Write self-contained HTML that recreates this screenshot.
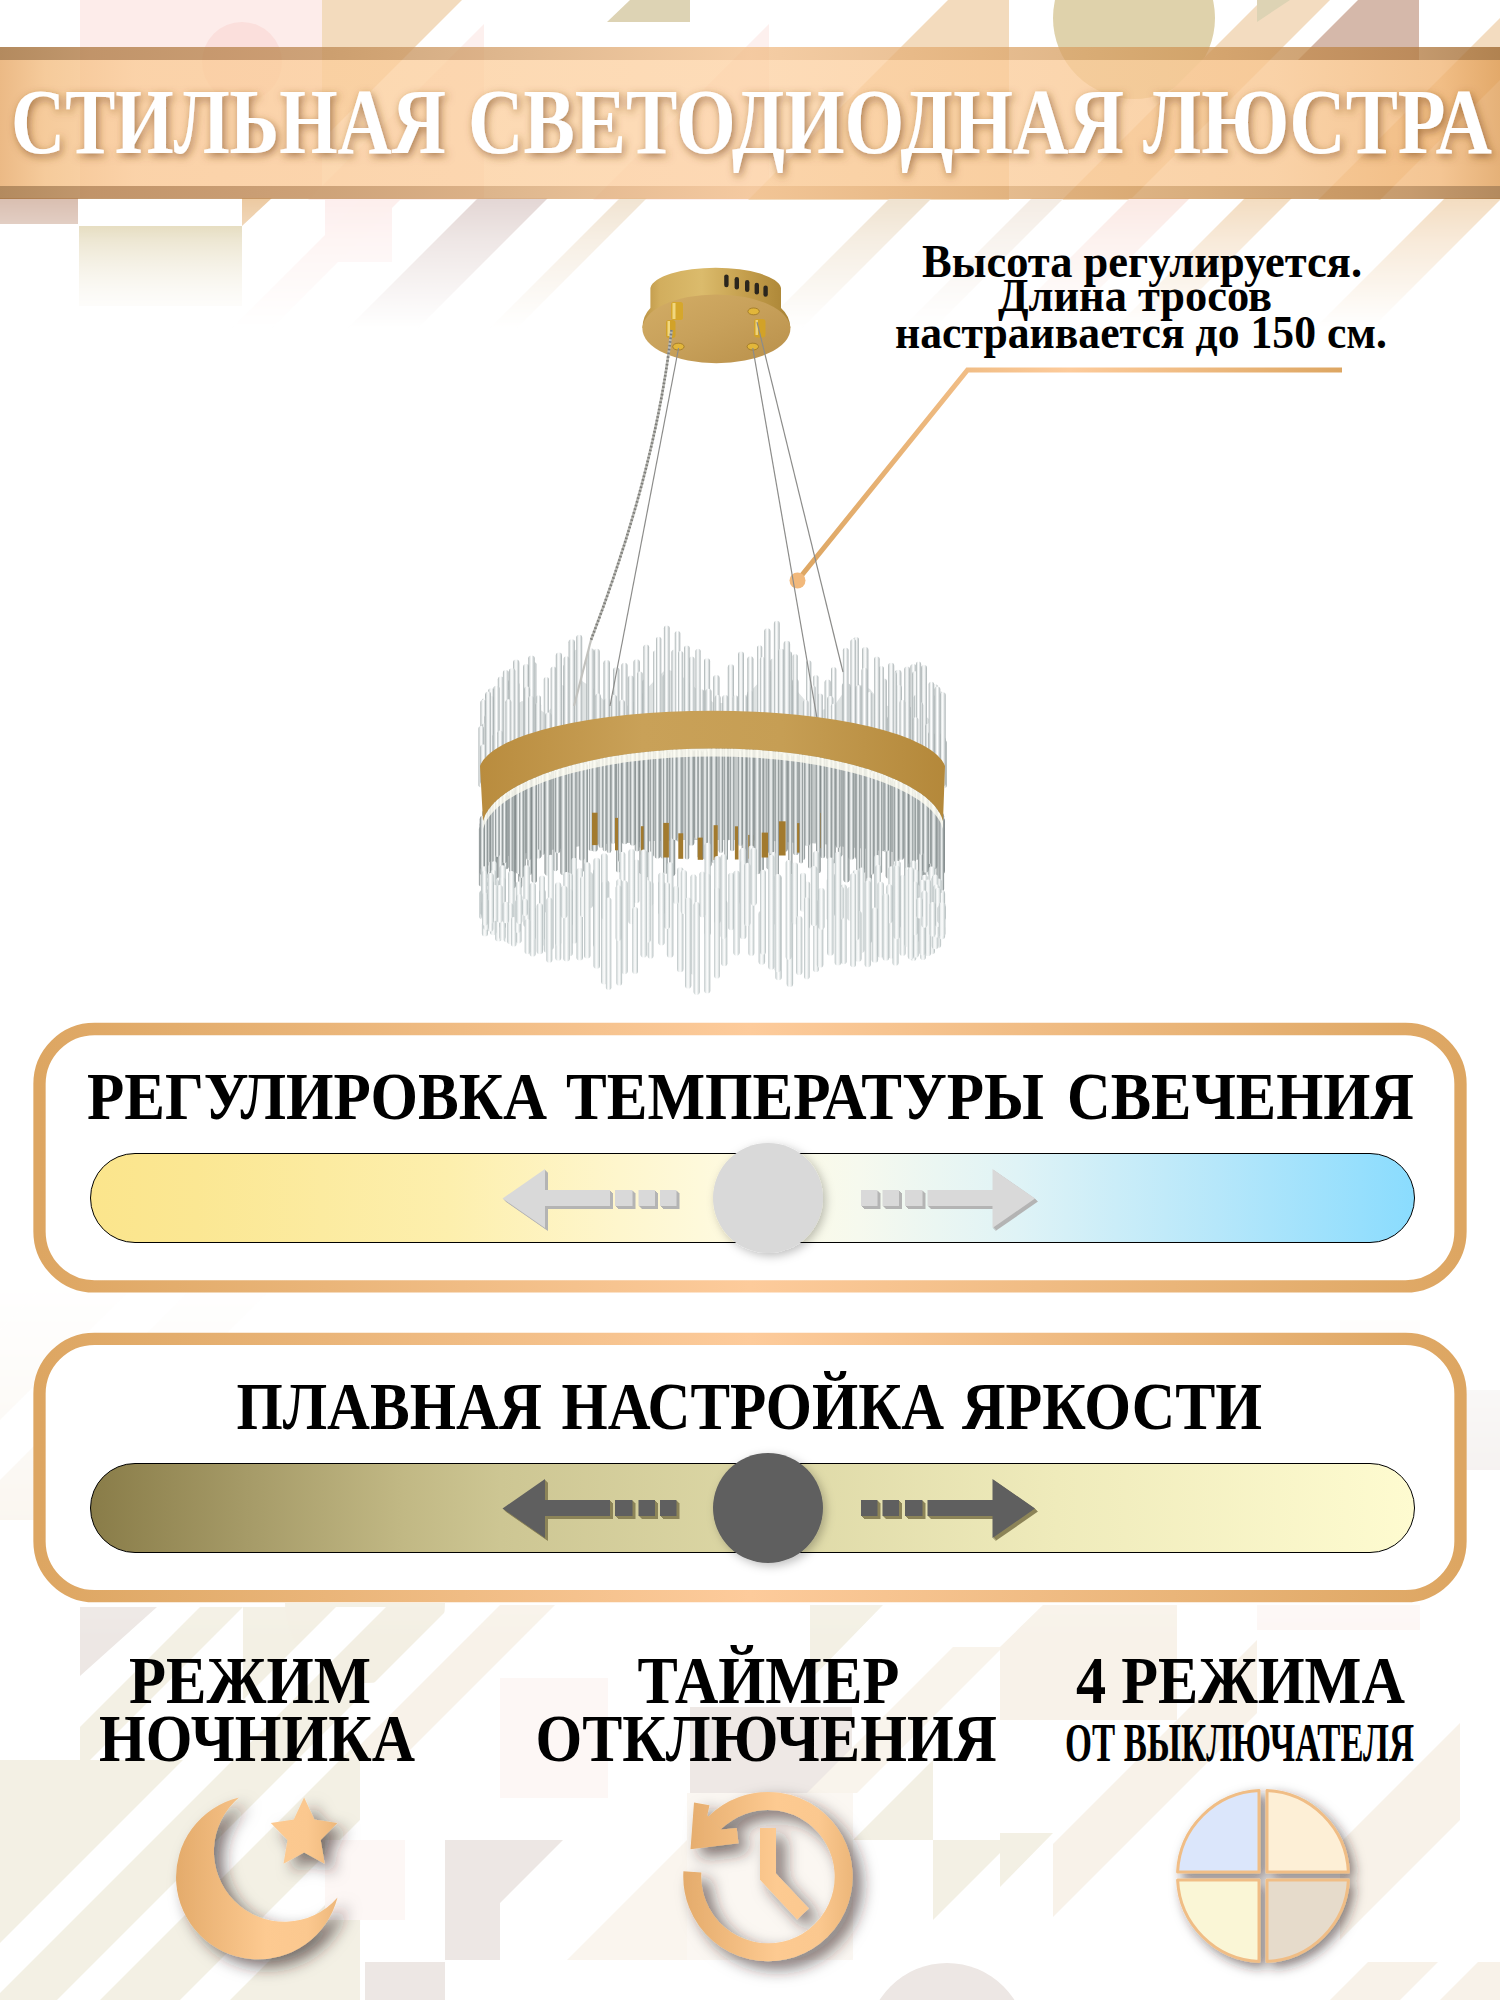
<!DOCTYPE html>
<html lang="ru">
<head>
<meta charset="utf-8">
<title>Стильная светодиодная люстра</title>
<style>
html,body{margin:0;padding:0;background:#fff;}
body{width:1500px;height:2000px;overflow:hidden;position:relative;}
svg{position:absolute;left:0;top:0;display:block;}
text{font-family:"Liberation Serif","DejaVu Serif",serif;font-weight:bold;}
</style>
</head>
<body>
<svg width="1500" height="2000" viewBox="0 0 1500 2000">
<defs>
<linearGradient id="gBannerEdge" x1="0" x2="1" y1="0" y2="0">
<stop offset="0" stop-color="#9e6931"/><stop offset="0.06" stop-color="#b07b45"/><stop offset="0.22" stop-color="#c18e59"/><stop offset="0.5" stop-color="#f2bf8b"/><stop offset="0.8" stop-color="#ce9759"/><stop offset="0.94" stop-color="#b67f46"/><stop offset="1" stop-color="#9e6931"/>
</linearGradient>
<linearGradient id="gBannerIn" x1="0" x2="1" y1="0" y2="0">
<stop offset="0" stop-color="#e6a663"/><stop offset="0.03" stop-color="#f3bc7f"/><stop offset="0.09" stop-color="#facb96"/><stop offset="0.5" stop-color="#fdd2a4"/><stop offset="0.85" stop-color="#f8c58e"/><stop offset="0.96" stop-color="#f1b575"/><stop offset="1" stop-color="#de9b52"/>
</linearGradient>
<linearGradient id="gFrame" x1="0" x2="1" y1="0" y2="0">
<stop offset="0" stop-color="#dda662"/><stop offset="0.5" stop-color="#fdcb9b"/><stop offset="1" stop-color="#dda662"/>
</linearGradient>
<linearGradient id="gTemp" x1="0" x2="1" y1="0" y2="0">
<stop offset="0" stop-color="#fbe58c"/><stop offset="0.08" stop-color="#fbe793"/><stop offset="0.27" stop-color="#fdefad"/><stop offset="0.4" stop-color="#fef6cd"/><stop offset="0.5" stop-color="#fefbe4"/><stop offset="0.58" stop-color="#f6f9ee"/><stop offset="0.7" stop-color="#dff3f6"/><stop offset="0.85" stop-color="#b6e7fa"/><stop offset="1" stop-color="#8adcfe"/>
</linearGradient>
<linearGradient id="gBright" x1="0" x2="1" y1="0" y2="0">
<stop offset="0" stop-color="#897c48"/><stop offset="0.12" stop-color="#a69b68"/><stop offset="0.235" stop-color="#c1b884"/><stop offset="0.31" stop-color="#cdc693"/><stop offset="0.51" stop-color="#ddd8a6"/><stop offset="0.73" stop-color="#efebbb"/><stop offset="1" stop-color="#fefbd0"/>
</linearGradient>
<linearGradient id="gIcon" x1="0" x2="1" y1="0" y2="0">
<stop offset="0" stop-color="#e6ae6e"/><stop offset="0.55" stop-color="#fdc98f"/><stop offset="1" stop-color="#f3bd84"/>
</linearGradient>
<filter id="fTitle" x="-5%" y="-30%" width="110%" height="160%">
<feDropShadow dx="2" dy="3" stdDeviation="4" flood-color="#7a4a1c" flood-opacity="0.65"/>
</filter>
<filter id="fIcon" x="-30%" y="-30%" width="170%" height="170%">
<feDropShadow dx="9" dy="8" stdDeviation="8" flood-color="#2e221c" flood-opacity="0.62"/>
</filter>
<filter id="fPie" x="-30%" y="-30%" width="170%" height="170%">
<feDropShadow dx="5" dy="5" stdDeviation="6" flood-color="#2e221c" flood-opacity="0.55"/>
</filter>
<filter id="fKnob" x="-30%" y="-30%" width="160%" height="160%">
<feDropShadow dx="3" dy="3" stdDeviation="5" flood-color="#000" flood-opacity="0.25"/>
</filter>
<path id="arrowR" d="M861,1190h16.5v16h-16.5z M882.5,1190h16.5v16h-16.5z M905,1190h17.5v16h-17.5z M927.5,1190H992.5V1169L1035,1198.5L992.5,1228V1206H927.5z"/>
<linearGradient id="gRodA" x1="0" x2="1" y1="0" y2="0">
<stop offset="0" stop-color="#a2aaab"/><stop offset="0.25" stop-color="#e6eaea"/><stop offset="0.5" stop-color="#ffffff"/><stop offset="0.75" stop-color="#d6dbdc"/><stop offset="1" stop-color="#a8b0b1"/>
</linearGradient>
<linearGradient id="gRodB" x1="0" x2="1" y1="0" y2="0">
<stop offset="0" stop-color="#7d8586"/><stop offset="0.3" stop-color="#d5dada"/><stop offset="0.5" stop-color="#f2f4f4"/><stop offset="0.75" stop-color="#aeb6b6"/><stop offset="1" stop-color="#7a8283"/>
</linearGradient>
<linearGradient id="gRodC" x1="0" x2="1" y1="0" y2="0">
<stop offset="0" stop-color="#b4bdbe"/><stop offset="0.25" stop-color="#eaeeee"/><stop offset="0.5" stop-color="#fdfdfd"/><stop offset="0.78" stop-color="#dce2e2"/><stop offset="1" stop-color="#b0b9ba"/>
</linearGradient>
<linearGradient id="gBrassSide" x1="0" x2="1" y1="0" y2="0">
<stop offset="0" stop-color="#bb9344"/><stop offset="0.12" stop-color="#d2ae5e"/><stop offset="0.4" stop-color="#dbbb6c"/><stop offset="0.7" stop-color="#c49e4c"/><stop offset="1" stop-color="#a98334"/>
</linearGradient>
<linearGradient id="gBrassFace" x1="0" x2="1" y1="0" y2="1">
<stop offset="0" stop-color="#d3ad66"/><stop offset="0.5" stop-color="#c7a05a"/><stop offset="1" stop-color="#b9904a"/>
</linearGradient>
<linearGradient id="gBand" x1="0" x2="1" y1="0" y2="0">
<stop offset="0" stop-color="#b98c3e"/><stop offset="0.35" stop-color="#c9a158"/><stop offset="0.65" stop-color="#c69e54"/><stop offset="1" stop-color="#b4883a"/>
</linearGradient>
<linearGradient id="gBeigeFade" x1="0" x2="0" y1="0" y2="1"><stop offset="0" stop-color="#ddd1ab"/><stop offset="1" stop-color="#f3eee0"/></linearGradient>
<linearGradient id="gmTop" x1="0" x2="0" y1="0" y2="400" gradientUnits="userSpaceOnUse"><stop offset="0" stop-color="#fff"/><stop offset="0.495" stop-color="#fff"/><stop offset="0.6" stop-color="#999"/><stop offset="0.82" stop-color="#000"/><stop offset="1" stop-color="#000"/></linearGradient>
<mask id="mTop" maskUnits="userSpaceOnUse" x="0" y="0" width="1500" height="400"><rect x="0" y="0" width="1500" height="400" fill="url(#gmTop)"/></mask>
<linearGradient id="gmBot" x1="0" x2="0" y1="1280" y2="1640" gradientUnits="userSpaceOnUse"><stop offset="0" stop-color="#000"/><stop offset="1" stop-color="#fff"/></linearGradient>
<mask id="mBot" maskUnits="userSpaceOnUse" x="0" y="1280" width="1500" height="720"><rect x="0" y="1280" width="1500" height="720" fill="url(#gmBot)"/></mask>
<linearGradient id="gIconMoon" gradientUnits="userSpaceOnUse" x1="176" x2="340" y1="0" y2="0"><stop offset="0" stop-color="#e4ab6b"/><stop offset="0.55" stop-color="#fdca91"/><stop offset="0.8" stop-color="#fbc88f"/><stop offset="1" stop-color="#ecb679"/></linearGradient>
<linearGradient id="gIconClock" gradientUnits="userSpaceOnUse" x1="683" x2="853" y1="0" y2="0"><stop offset="0" stop-color="#e4ab6b"/><stop offset="0.55" stop-color="#fdca91"/><stop offset="0.8" stop-color="#fbc88f"/><stop offset="1" stop-color="#ecb679"/></linearGradient>
</defs>

<!-- BACKGROUND -->
<g id="bg">
<g mask="url(#mTop)"><rect x="80" y="0" width="242" height="198" fill="#fdecea"/><circle cx="242" cy="62" r="40" fill="#fbdfdc"/><polygon points="322,0 462,0 322,140" fill="#f3dbbd"/><polygon points="607,22 630,0 690,0 690,22" fill="#ddd3b4"/><polygon points="484,24 484,200 308,200" fill="#fdf0ee"/><polygon points="769,24 769,200 593,200" fill="#fdf0ee"/><polygon points="948,0 1009,0 1009,200 748,200" fill="#f3dbbd"/><circle cx="1134" cy="18" r="81" fill="#dfd2ab"/><polygon points="1262,0 1330,0 1130,200 1062,200" fill="#f3dcc0"/><polygon points="1257,0 1290,0 1257,22" fill="#ddd3b4"/><polygon points="1358,0 1419,0 1419,60 1298,60" fill="#d5b8aa"/><polygon points="1518,0 1580,0 1380,200 1318,200" fill="#f3dcc0"/><rect x="0" y="198" width="78" height="26" fill="#d9beb0"/><rect x="79" y="226" width="163" height="80" fill="url(#gBeigeFade)"/><polygon points="242,198 272,198 242,226" fill="#ecc9a0"/><rect x="325" y="198" width="67" height="64" fill="#fdeeed"/><polygon points="478,198 548,198 406,340 336,340" fill="#e3d6d4"/><polygon points="620,198 647,198 505,340 478,340" fill="#f1e4d2"/><polygon points="362,198 402,198 260,340 220,340" fill="#fdeeec"/><polygon points="890,198 932,198 790,340 748,340" fill="#efe2cf"/><polygon points="1130,198 1190,198 1028,360 968,360" fill="#fbe9e4"/><polygon points="1245,198 1292,198 1130,360 1083,360" fill="#f3dcc0"/><polygon points="1445,198 1502,198 1340,360 1283,360" fill="#f3dcc0"/><polygon points="1032,198 1064,198 932,330 900,330" fill="#f4ece4"/></g>
<g mask="url(#mBot)"><rect x="0" y="1760" width="243" height="240" fill="#f3f0e4"/><rect x="243" y="1607" width="117" height="393" fill="#f3f0e4"/><path d="M285,1603 A80,80 0 0 0 445,1603 Z" fill="#f3efe3"/><polygon points="80,1607 157,1607 80,1676" fill="#ede7e4"/><polygon points="200,1607 243,1607 90,1760 80,1760 80,1727" fill="#f3f0e4"/><polygon points="336,1607 386,1607 -7,2000 -57,2000" fill="#fff"/><polygon points="450,1607 493,1607 100,2000 57,2000" fill="#fff"/><polygon points="480,1700 530,1700 230,2000 180,2000" fill="#fff"/><rect x="325" y="1840" width="80" height="80" fill="#fdf7f5"/><polygon points="445,1840 563,1840 500,1903 500,1960 445,1960" fill="#ede7e4"/><rect x="365" y="1962" width="80" height="38" fill="#ede7e4"/><rect x="500" y="1678" width="108" height="120" fill="#fdf7f5"/><polygon points="500,1605 555,1605 400,1760 345,1760" fill="#f8f2e9"/><rect x="690" y="1707" width="162" height="86" fill="#eee8e5"/><polygon points="810,1605 883,1605 810,1680" fill="#f3f0e4"/><polygon points="933,1760 933,1840 853,1840" fill="#f3f0e4"/><polygon points="933,1840 1013,1840 933,1920" fill="#f3f0e4"/><polygon points="687,1840 687,1960 567,1960" fill="#faf5ee"/><rect x="687" y="1793" width="166" height="167" fill="#fbf7f2"/><polygon points="953,1647 1003,1647 857,1793 807,1793" fill="#f9f4ec"/><polygon points="1000,1647 1043,1605 1177,1605 1177,1720 1000,1720" fill="#f8f2e9"/><polygon points="1257,1640 1257,1713 1053,1917 1053,1844" fill="#f8f2e9"/><polygon points="1000,1833 1053,1833 1000,1887" fill="#f3f0e4"/><polygon points="1460,1723 1460,1820 1340,1940 1340,1843" fill="#f8f2e9"/><polygon points="1368,1962 1438,1962 1400,2000 1330,2000" fill="#f8f2e9"/><polygon points="1478,1962 1538,1962 1500,2000 1440,2000" fill="#f8f2e9"/><rect x="1257" y="1605" width="163" height="25" fill="#fdf7f5"/><circle cx="947" cy="2043" r="80" fill="#ede7e4"/><polygon points="40,1290 130,1290 0,1420 -90,1420" fill="#f8f2e9"/><polygon points="190,1290 270,1290 40,1520 -40,1520" fill="#f8f2e9"/><rect x="1420" y="1390" width="80" height="80" fill="#ede7e4"/><rect x="1340" y="1320" width="80" height="80" fill="#f8f2e9"/><polygon points="0,1290 40,1290 0,1330" fill="#f8f2e9"/></g>
</g><!--endbg-->

<!-- BANNER -->
<g id="banner">
<rect x="0" y="47" width="1500" height="13" fill="url(#gBannerEdge)" opacity="0.78"/>
<rect x="0" y="186" width="1500" height="13" fill="url(#gBannerEdge)" opacity="0.78"/>
<rect x="0" y="60" width="1500" height="126" fill="url(#gBannerIn)" opacity="0.78"/>
<g font-size="93" fill="#fff" filter="url(#fTitle)">
<text x="11" y="152.7" textLength="435" lengthAdjust="spacingAndGlyphs">СТИЛЬНАЯ</text>
<text x="468" y="152.7" textLength="656" lengthAdjust="spacingAndGlyphs">СВЕТОДИОДНАЯ</text>
<text x="1143" y="152.7" textLength="349" lengthAdjust="spacingAndGlyphs">ЛЮСТРА</text>
</g>
</g>

<!-- CALLOUT -->
<g id="callout" fill="#000">
<text x="922" y="276.5" font-size="47" textLength="440" lengthAdjust="spacingAndGlyphs">Высота регулируется.</text>
<text x="998" y="311" font-size="47" textLength="274" lengthAdjust="spacingAndGlyphs">Длина тросов</text>
<text x="895" y="347.5" font-size="47" textLength="492" lengthAdjust="spacingAndGlyphs">настраивается до 150 см.</text>
<polyline points="1342,370 967.5,370 797.5,580.5" fill="none" stroke="url(#gFrame)" stroke-width="5" stroke-linejoin="miter"/>
<circle cx="797.5" cy="580.5" r="8" fill="#f2b97c"/>
</g>

<!-- LAMP -->
<g id="lamp">
<path d="M650.4,288 A65.5,22 0 0 1 781,288 L781,308 Q790,316 790.4,328 L642.4,328 Q642.5,316 650.4,308 Z" fill="url(#gBrassSide)"/>
<ellipse cx="716.4" cy="328.8" rx="74" ry="34.4" fill="url(#gBrassFace)"/>
<rect x="724.2" y="274.4" width="4.4" height="12.8" rx="2.2" fill="#2b261d"/>
<rect x="734.6" y="277.0" width="4.4" height="12.4" rx="2.2" fill="#2b261d"/>
<rect x="745.0" y="280.0" width="4.4" height="12.0" rx="2.2" fill="#2b261d"/>
<rect x="754.6" y="282.8" width="4.4" height="11.6" rx="2.2" fill="#2b261d"/>
<rect x="763.4" y="285.6" width="4.4" height="11.2" rx="2.2" fill="#2b261d"/>
<rect x="671" y="302" width="12" height="18" rx="2.5" fill="#d6a72c"/>
<rect x="672.5" y="303" width="3" height="16" fill="#f1d77e"/>
<rect x="666" y="320" width="9.5" height="18" rx="3" fill="#d2a228"/>
<rect x="667.5" y="321" width="2.5" height="15" fill="#f1d77e"/>
<rect x="754" y="319" width="11.5" height="18.5" rx="3" fill="#d2a228"/>
<rect x="755.5" y="320" width="2.5" height="15" fill="#efd37a"/>
<ellipse cx="678.4" cy="346.6" rx="5.7" ry="3.4000000000000004" fill="#e2b63a" stroke="#9a7322" stroke-width="0.8"/>
<ellipse cx="753.6" cy="311.4" rx="5.7" ry="3.4000000000000004" fill="#e2b63a" stroke="#9a7322" stroke-width="0.8"/>
<ellipse cx="752.8" cy="346.6" rx="5.7" ry="3.4000000000000004" fill="#e2b63a" stroke="#9a7322" stroke-width="0.8"/>
<polygon points="486,740 498,726 510,708 522,701 534,705 546,714 558,700 570,686 582,681 594,689 606,703 618,708 630,705 642,694 654,681 666,669 678,673 690,683 702,694 714,703 726,703 738,701 750,692 762,679 774,668 786,677 798,692 810,706 822,710 834,706 846,689 858,684 870,689 882,704 894,708 906,711 918,709 930,720 941,738 941,773 930,764 918,757 906,752 894,748 882,744 870,741 858,738 846,736 834,734 822,732 810,731 798,729 786,728 774,727 762,726 750,726 738,725 726,725 714,725 702,725 690,725 678,726 666,726 654,727 642,728 630,729 618,730 606,732 594,733 582,735 570,738 558,740 546,743 534,747 522,751 510,756 498,762 486,771" fill="#dfe3e3"/>
<g id="rodsUp"><rect x="662.7" y="674.0" width="6.2" height="62.2" rx="3.1" fill="url(#gRodA)"/><rect x="921.1" y="664.9" width="5.9" height="105.3" rx="2.9" fill="url(#gRodA)"/><rect x="727.8" y="664.3" width="6.2" height="70.8" rx="3.1" fill="url(#gRodA)"/><rect x="906.2" y="706.4" width="5.3" height="56.6" rx="2.7" fill="url(#gRodA)"/><rect x="926.8" y="722.7" width="6.0" height="51.0" rx="3.0" fill="url(#gRodA)"/><rect x="894.5" y="709.6" width="6.1" height="49.2" rx="3.1" fill="url(#gRodA)"/><rect x="792.2" y="678.7" width="6.3" height="60.2" rx="3.1" fill="url(#gRodA)"/><rect x="853.5" y="636.9" width="5.4" height="111.0" rx="2.7" fill="url(#gRodA)"/><rect x="817.4" y="693.4" width="5.4" height="48.4" rx="2.7" fill="url(#gRodA)"/><rect x="713.2" y="674.9" width="6.3" height="60.1" rx="3.1" fill="url(#gRodA)"/><rect x="845.2" y="683.5" width="5.3" height="62.8" rx="2.7" fill="url(#gRodA)"/><rect x="603.5" y="660.1" width="6.4" height="81.5" rx="3.2" fill="url(#gRodA)"/><rect x="502.9" y="679.4" width="6.2" height="88.1" rx="3.1" fill="url(#gRodA)"/><rect x="876.2" y="711.3" width="5.2" height="41.9" rx="2.6" fill="url(#gRodA)"/><rect x="831.0" y="667.1" width="5.3" height="76.7" rx="2.7" fill="url(#gRodA)"/><rect x="523.1" y="663.9" width="6.0" height="95.4" rx="3.0" fill="url(#gRodA)"/><rect x="741.8" y="695.6" width="5.4" height="40.0" rx="2.7" fill="url(#gRodA)"/><rect x="813.3" y="674.9" width="5.1" height="66.4" rx="2.6" fill="url(#gRodA)"/><rect x="887.1" y="716.1" width="6.2" height="40.4" rx="3.1" fill="url(#gRodA)"/><rect x="850.5" y="639.0" width="5.6" height="108.3" rx="2.8" fill="url(#gRodA)"/><rect x="764.3" y="628.3" width="6.1" height="108.5" rx="3.1" fill="url(#gRodA)"/><rect x="653.2" y="650.2" width="5.2" height="86.6" rx="2.6" fill="url(#gRodA)"/><rect x="770.5" y="658.6" width="5.6" height="78.5" rx="2.8" fill="url(#gRodA)"/><rect x="671.5" y="649.4" width="6.0" height="86.4" rx="3.0" fill="url(#gRodA)"/><rect x="792.7" y="653.9" width="5.0" height="85.0" rx="2.5" fill="url(#gRodA)"/><rect x="480.0" y="734.5" width="5.3" height="50.8" rx="2.6" fill="url(#gRodA)"/><rect x="941.0" y="740.1" width="6.0" height="47.8" rx="3.0" fill="url(#gRodA)"/><rect x="785.8" y="651.3" width="6.3" height="87.0" rx="3.1" fill="url(#gRodA)"/><rect x="880.5" y="678.5" width="6.4" height="76.0" rx="3.2" fill="url(#gRodA)"/><rect x="576.4" y="685.7" width="5.2" height="60.2" rx="2.6" fill="url(#gRodA)"/><rect x="594.0" y="648.8" width="5.7" height="94.2" rx="2.9" fill="url(#gRodA)"/><rect x="824.6" y="679.5" width="6.1" height="63.4" rx="3.0" fill="url(#gRodA)"/><rect x="550.8" y="711.3" width="5.7" height="40.0" rx="2.9" fill="url(#gRodA)"/><rect x="698.2" y="689.2" width="6.0" height="45.8" rx="3.0" fill="url(#gRodA)"/><rect x="487.5" y="737.4" width="5.3" height="40.0" rx="2.6" fill="url(#gRodA)"/><rect x="932.6" y="725.3" width="5.1" height="52.3" rx="2.5" fill="url(#gRodA)"/><rect x="806.2" y="660.2" width="5.1" height="80.2" rx="2.6" fill="url(#gRodA)"/><rect x="485.0" y="693.2" width="5.1" height="86.5" rx="2.5" fill="url(#gRodA)"/><rect x="773.9" y="620.8" width="5.8" height="116.5" rx="2.9" fill="url(#gRodA)"/><rect x="904.3" y="666.5" width="5.7" height="95.8" rx="2.9" fill="url(#gRodA)"/><rect x="917.4" y="702.3" width="5.8" height="65.9" rx="2.9" fill="url(#gRodA)"/><rect x="481.8" y="698.3" width="5.2" height="84.7" rx="2.6" fill="url(#gRodA)"/><rect x="559.1" y="684.9" width="5.3" height="64.5" rx="2.6" fill="url(#gRodA)"/><rect x="514.1" y="682.1" width="5.3" height="80.6" rx="2.6" fill="url(#gRodA)"/><rect x="513.1" y="659.6" width="6.2" height="103.3" rx="3.1" fill="url(#gRodA)"/><rect x="488.1" y="688.3" width="6.4" height="88.1" rx="3.2" fill="url(#gRodA)"/><rect x="568.6" y="639.2" width="6.3" height="108.1" rx="3.1" fill="url(#gRodA)"/><rect x="695.5" y="648.8" width="5.1" height="86.3" rx="2.6" fill="url(#gRodA)"/><rect x="878.8" y="665.9" width="5.1" height="87.9" rx="2.5" fill="url(#gRodA)"/><rect x="633.5" y="659.3" width="6.3" height="79.0" rx="3.2" fill="url(#gRodA)"/><rect x="483.8" y="730.2" width="5.6" height="50.3" rx="2.8" fill="url(#gRodA)"/><rect x="500.8" y="698.7" width="6.1" height="70.0" rx="3.0" fill="url(#gRodA)"/><rect x="674.8" y="630.9" width="5.5" height="104.8" rx="2.7" fill="url(#gRodA)"/><rect x="663.9" y="625.5" width="5.7" height="110.7" rx="2.8" fill="url(#gRodA)"/><rect x="509.3" y="686.5" width="5.7" height="78.2" rx="2.9" fill="url(#gRodA)"/><rect x="802.9" y="700.1" width="5.6" height="40.0" rx="2.8" fill="url(#gRodA)"/><rect x="936.0" y="713.1" width="5.8" height="68.0" rx="2.9" fill="url(#gRodA)"/><rect x="937.5" y="740.7" width="5.0" height="41.5" rx="2.5" fill="url(#gRodA)"/><rect x="910.4" y="663.9" width="6.0" height="101.0" rx="3.0" fill="url(#gRodA)"/><rect x="827.2" y="695.9" width="6.2" height="47.5" rx="3.1" fill="url(#gRodA)"/><rect x="656.0" y="636.8" width="5.3" height="99.8" rx="2.6" fill="url(#gRodA)"/><rect x="933.6" y="719.5" width="5.6" height="59.2" rx="2.8" fill="url(#gRodA)"/><rect x="912.1" y="671.3" width="6.0" height="94.4" rx="3.0" fill="url(#gRodA)"/><rect x="855.6" y="685.3" width="5.6" height="63.0" rx="2.8" fill="url(#gRodA)"/><rect x="595.5" y="693.6" width="5.3" height="49.3" rx="2.6" fill="url(#gRodA)"/><rect x="678.0" y="651.0" width="5.2" height="84.6" rx="2.6" fill="url(#gRodA)"/><rect x="940.1" y="736.9" width="5.7" height="49.2" rx="2.9" fill="url(#gRodA)"/><rect x="531.4" y="662.1" width="5.0" height="94.6" rx="2.5" fill="url(#gRodA)"/><rect x="862.1" y="646.9" width="6.3" height="103.0" rx="3.1" fill="url(#gRodA)"/><rect x="586.3" y="656.3" width="6.1" height="87.9" rx="3.1" fill="url(#gRodA)"/><rect x="488.0" y="696.0" width="6.0" height="80.7" rx="3.0" fill="url(#gRodA)"/><rect x="492.6" y="733.3" width="6.2" height="40.0" rx="3.1" fill="url(#gRodA)"/><rect x="483.2" y="702.1" width="5.9" height="78.9" rx="2.9" fill="url(#gRodA)"/><rect x="925.4" y="723.4" width="5.6" height="49.2" rx="2.8" fill="url(#gRodA)"/><rect x="480.4" y="699.8" width="5.8" height="84.6" rx="2.9" fill="url(#gRodA)"/><rect x="929.4" y="683.8" width="5.7" height="91.6" rx="2.9" fill="url(#gRodA)"/><rect x="528.3" y="655.4" width="6.4" height="102.1" rx="3.2" fill="url(#gRodA)"/><rect x="841.9" y="682.7" width="6.1" height="63.0" rx="3.1" fill="url(#gRodA)"/><rect x="874.2" y="656.5" width="5.4" height="96.2" rx="2.7" fill="url(#gRodA)"/><rect x="613.1" y="667.2" width="6.3" height="73.2" rx="3.1" fill="url(#gRodA)"/><rect x="861.5" y="667.7" width="6.0" height="82.0" rx="3.0" fill="url(#gRodA)"/><rect x="481.8" y="723.3" width="6.1" height="59.1" rx="3.0" fill="url(#gRodA)"/><rect x="704.0" y="658.2" width="6.1" height="76.8" rx="3.1" fill="url(#gRodA)"/><rect x="642.4" y="679.3" width="5.6" height="58.3" rx="2.8" fill="url(#gRodA)"/><rect x="936.4" y="691.3" width="6.3" height="90.4" rx="3.1" fill="url(#gRodA)"/><rect x="555.8" y="652.6" width="6.2" height="97.5" rx="3.1" fill="url(#gRodA)"/><rect x="747.4" y="656.3" width="6.0" height="79.5" rx="3.0" fill="url(#gRodA)"/><rect x="621.4" y="662.7" width="6.1" height="76.8" rx="3.0" fill="url(#gRodA)"/><rect x="496.0" y="724.0" width="6.1" height="47.3" rx="3.0" fill="url(#gRodA)"/><rect x="842.9" y="647.8" width="5.6" height="98.1" rx="2.8" fill="url(#gRodA)"/><rect x="524.1" y="686.5" width="6.0" height="72.4" rx="3.0" fill="url(#gRodA)"/><rect x="757.1" y="645.3" width="5.1" height="90.9" rx="2.5" fill="url(#gRodA)"/><rect x="684.1" y="645.5" width="5.5" height="89.9" rx="2.7" fill="url(#gRodA)"/><rect x="611.2" y="694.7" width="5.7" height="45.9" rx="2.8" fill="url(#gRodA)"/><rect x="932.8" y="684.2" width="5.0" height="93.6" rx="2.5" fill="url(#gRodA)"/><rect x="747.5" y="690.4" width="5.5" height="45.4" rx="2.7" fill="url(#gRodA)"/><rect x="913.8" y="694.8" width="5.9" height="71.7" rx="2.9" fill="url(#gRodA)"/><rect x="504.0" y="689.5" width="5.9" height="77.5" rx="2.9" fill="url(#gRodA)"/><rect x="637.3" y="671.4" width="5.3" height="66.6" rx="2.7" fill="url(#gRodA)"/><rect x="574.1" y="649.5" width="6.3" height="96.8" rx="3.2" fill="url(#gRodA)"/><rect x="738.1" y="651.5" width="5.9" height="84.0" rx="3.0" fill="url(#gRodA)"/><rect x="478.5" y="726.1" width="5.5" height="61.4" rx="2.7" fill="url(#gRodA)"/><rect x="928.3" y="731.3" width="5.9" height="43.4" rx="3.0" fill="url(#gRodA)"/><rect x="714.8" y="695.0" width="5.8" height="40.0" rx="2.9" fill="url(#gRodA)"/><rect x="643.4" y="644.4" width="5.7" height="93.1" rx="2.9" fill="url(#gRodA)"/><rect x="604.2" y="698.2" width="5.5" height="43.4" rx="2.8" fill="url(#gRodA)"/><rect x="508.9" y="668.2" width="6.4" height="96.5" rx="3.2" fill="url(#gRodA)"/><rect x="722.3" y="695.1" width="5.9" height="40.0" rx="2.9" fill="url(#gRodA)"/><rect x="484.5" y="714.2" width="6.0" height="65.5" rx="3.0" fill="url(#gRodA)"/><rect x="930.3" y="689.0" width="6.1" height="87.2" rx="3.0" fill="url(#gRodA)"/><rect x="895.0" y="669.8" width="6.4" height="89.2" rx="3.2" fill="url(#gRodA)"/><rect x="535.9" y="695.3" width="5.0" height="60.0" rx="2.5" fill="url(#gRodA)"/><rect x="528.2" y="696.1" width="5.9" height="61.4" rx="2.9" fill="url(#gRodA)"/><rect x="895.9" y="685.1" width="6.0" height="74.1" rx="3.0" fill="url(#gRodA)"/><rect x="810.2" y="685.4" width="5.4" height="55.6" rx="2.7" fill="url(#gRodA)"/><rect x="563.4" y="663.9" width="5.6" height="84.6" rx="2.8" fill="url(#gRodA)"/><rect x="759.9" y="656.9" width="5.1" height="79.5" rx="2.5" fill="url(#gRodA)"/><rect x="933.7" y="694.7" width="5.3" height="83.9" rx="2.6" fill="url(#gRodA)"/><rect x="563.7" y="656.3" width="5.5" height="92.1" rx="2.8" fill="url(#gRodA)"/><rect x="916.0" y="661.6" width="5.1" height="105.7" rx="2.6" fill="url(#gRodA)"/><rect x="550.7" y="666.4" width="5.4" height="85.0" rx="2.7" fill="url(#gRodA)"/><rect x="778.1" y="648.8" width="6.3" height="88.9" rx="3.1" fill="url(#gRodA)"/><rect x="627.9" y="675.5" width="5.8" height="63.4" rx="2.9" fill="url(#gRodA)"/><rect x="899.6" y="699.9" width="5.7" height="60.7" rx="2.9" fill="url(#gRodA)"/><rect x="783.7" y="640.7" width="6.4" height="97.5" rx="3.2" fill="url(#gRodA)"/><rect x="939.9" y="692.2" width="5.8" height="93.6" rx="2.9" fill="url(#gRodA)"/><rect x="934.3" y="732.3" width="6.4" height="47.4" rx="3.2" fill="url(#gRodA)"/><rect x="497.8" y="676.6" width="5.9" height="93.7" rx="2.9" fill="url(#gRodA)"/><rect x="705.4" y="688.7" width="6.1" height="46.3" rx="3.1" fill="url(#gRodA)"/><rect x="543.8" y="677.1" width="5.1" height="76.0" rx="2.6" fill="url(#gRodA)"/><rect x="891.2" y="671.7" width="5.8" height="86.0" rx="2.9" fill="url(#gRodA)"/><rect x="493.4" y="685.8" width="6.1" height="87.0" rx="3.0" fill="url(#gRodA)"/><rect x="830.9" y="703.8" width="5.1" height="40.0" rx="2.5" fill="url(#gRodA)"/><rect x="480.1" y="744.5" width="6.3" height="40.0" rx="3.2" fill="url(#gRodA)"/><rect x="689.2" y="656.4" width="5.2" height="78.9" rx="2.6" fill="url(#gRodA)"/><rect x="535.4" y="702.5" width="5.7" height="52.9" rx="2.8" fill="url(#gRodA)"/><rect x="732.8" y="695.3" width="5.2" height="40.0" rx="2.6" fill="url(#gRodA)"/><rect x="502.9" y="670.0" width="5.7" height="97.7" rx="2.8" fill="url(#gRodA)"/><rect x="576.3" y="634.8" width="5.9" height="111.1" rx="2.9" fill="url(#gRodA)"/><rect x="867.1" y="692.0" width="5.1" height="58.8" rx="2.5" fill="url(#gRodA)"/><rect x="545.1" y="712.6" width="6.3" height="40.0" rx="3.2" fill="url(#gRodA)"/><rect x="485.4" y="691.6" width="5.6" height="87.4" rx="2.8" fill="url(#gRodA)"/><rect x="934.6" y="686.6" width="5.7" height="93.0" rx="2.9" fill="url(#gRodA)"/><rect x="505.5" y="699.3" width="5.8" height="67.1" rx="2.9" fill="url(#gRodA)"/><rect x="912.8" y="717.3" width="5.5" height="48.5" rx="2.8" fill="url(#gRodA)"/><rect x="497.5" y="730.6" width="5.4" height="40.0" rx="2.7" fill="url(#gRodA)"/><rect x="587.9" y="648.2" width="5.9" height="95.7" rx="3.0" fill="url(#gRodA)"/><rect x="619.1" y="699.8" width="5.8" height="40.0" rx="2.9" fill="url(#gRodA)"/><rect x="928.7" y="681.7" width="5.4" height="93.1" rx="2.7" fill="url(#gRodA)"/><rect x="888.2" y="662.8" width="6.0" height="93.9" rx="3.0" fill="url(#gRodA)"/></g>
<g stroke="#8c8c8a" stroke-width="1.2" fill="none"><path d="M671.5,330 Q656,470 591,640" stroke="#b9b9b4" stroke-width="2.6"/><path d="M671.5,330 Q656,470 591,640" stroke="#7e7e7a" stroke-width="2.6" stroke-dasharray="1.6 2.2"/><path d="M591,640 L574,706" stroke="#c2c2be" stroke-width="2.2"/><line x1="678.6" y1="348" x2="610" y2="706"/><line x1="752.8" y1="348" x2="818" y2="724"/><line x1="757" y1="322" x2="843" y2="672"/></g>
<polygon points="485,809 497,794 509,785 521,778 533,773 545,768 557,764 569,760 581,757 593,755 605,752 617,750 629,748 641,747 653,746 665,745 677,744 689,743 701,743 713,743 725,743 737,743 749,744 761,745 773,746 785,747 797,749 809,750 821,752 833,755 845,757 857,761 869,764 881,768 893,773 905,779 917,786 929,795 941,811 941,860 929,858 917,856 905,854 893,852 881,851 869,849 857,848 845,847 833,845 821,844 809,843 797,843 785,842 773,841 761,841 749,840 737,840 725,840 713,840 701,840 689,840 677,840 665,841 653,841 641,842 629,843 617,843 605,844 593,845 581,846 569,848 557,849 545,851 533,852 521,854 509,856 497,857 485,859" fill="#c4c9c9"/>
<g id="rodsDense"><rect x="878.6" y="774.7" width="3.5" height="98.7" rx="1.8" fill="url(#gRodB)"/><rect x="808.0" y="753.5" width="4.2" height="115.0" rx="2.1" fill="url(#gRodB)"/><rect x="650.3" y="750.3" width="3.5" height="106.5" rx="1.8" fill="url(#gRodB)"/><rect x="766.6" y="753.3" width="4.1" height="116.2" rx="2.1" fill="url(#gRodB)"/><rect x="606.7" y="756.4" width="4.6" height="96.6" rx="2.3" fill="url(#gRodB)"/><rect x="634.8" y="751.7" width="4.5" height="99.8" rx="2.3" fill="url(#gRodB)"/><rect x="479.7" y="821.9" width="4.3" height="61.4" rx="2.1" fill="url(#gRodB)"/><rect x="936.4" y="808.3" width="4.5" height="76.7" rx="2.2" fill="url(#gRodB)"/><rect x="485.5" y="811.3" width="5.7" height="66.9" rx="2.8" fill="url(#gRodB)"/><rect x="892.6" y="776.4" width="3.8" height="105.5" rx="1.9" fill="url(#gRodB)"/><rect x="482.3" y="810.1" width="5.5" height="50.9" rx="2.8" fill="url(#gRodB)"/><rect x="489.1" y="805.4" width="4.7" height="57.7" rx="2.4" fill="url(#gRodB)"/><rect x="921.9" y="797.4" width="3.8" height="79.9" rx="1.9" fill="url(#gRodB)"/><rect x="902.2" y="780.1" width="3.9" height="77.6" rx="1.9" fill="url(#gRodB)"/><rect x="935.4" y="809.7" width="6.3" height="50.2" rx="3.1" fill="url(#gRodB)"/><rect x="654.8" y="748.7" width="5.4" height="109.9" rx="2.7" fill="url(#gRodB)"/><rect x="616.1" y="756.1" width="4.7" height="116.5" rx="2.3" fill="url(#gRodB)"/><rect x="487.4" y="805.2" width="3.5" height="67.1" rx="1.8" fill="url(#gRodB)"/><rect x="567.6" y="763.0" width="6.4" height="109.1" rx="3.2" fill="url(#gRodB)"/><rect x="870.7" y="771.9" width="5.3" height="100.9" rx="2.7" fill="url(#gRodB)"/><rect x="837.9" y="756.5" width="4.5" height="100.2" rx="2.3" fill="url(#gRodB)"/><rect x="835.8" y="761.1" width="4.6" height="86.9" rx="2.3" fill="url(#gRodB)"/><rect x="927.9" y="801.0" width="6.0" height="84.8" rx="3.0" fill="url(#gRodB)"/><rect x="585.5" y="760.4" width="5.8" height="89.4" rx="2.9" fill="url(#gRodB)"/><rect x="697.6" y="750.3" width="4.6" height="108.5" rx="2.3" fill="url(#gRodB)"/><rect x="630.0" y="751.9" width="5.6" height="93.9" rx="2.8" fill="url(#gRodB)"/><rect x="660.3" y="752.7" width="5.6" height="105.8" rx="2.8" fill="url(#gRodB)"/><rect x="688.0" y="750.0" width="6.3" height="95.6" rx="3.2" fill="url(#gRodB)"/><rect x="589.2" y="760.0" width="3.7" height="91.1" rx="1.9" fill="url(#gRodB)"/><rect x="924.5" y="795.5" width="5.6" height="81.7" rx="2.8" fill="url(#gRodB)"/><rect x="663.0" y="747.3" width="4.6" height="126.8" rx="2.3" fill="url(#gRodB)"/><rect x="496.2" y="795.8" width="6.4" height="63.9" rx="3.2" fill="url(#gRodB)"/><rect x="758.7" y="745.9" width="5.1" height="127.4" rx="2.6" fill="url(#gRodB)"/><rect x="684.9" y="748.0" width="4.3" height="111.6" rx="2.1" fill="url(#gRodB)"/><rect x="669.2" y="751.5" width="6.0" height="124.8" rx="3.0" fill="url(#gRodB)"/><rect x="804.2" y="754.8" width="6.0" height="91.2" rx="3.0" fill="url(#gRodB)"/><rect x="493.2" y="798.0" width="4.2" height="91.7" rx="2.1" fill="url(#gRodB)"/><rect x="844.9" y="762.5" width="4.1" height="113.8" rx="2.0" fill="url(#gRodB)"/><rect x="725.3" y="747.5" width="3.6" height="93.4" rx="1.8" fill="url(#gRodB)"/><rect x="865.5" y="765.5" width="6.3" height="119.2" rx="3.2" fill="url(#gRodB)"/><rect x="893.9" y="780.0" width="5.5" height="82.4" rx="2.8" fill="url(#gRodB)"/><rect x="793.2" y="754.3" width="5.3" height="100.8" rx="2.6" fill="url(#gRodB)"/><rect x="694.3" y="749.6" width="4.1" height="89.1" rx="2.0" fill="url(#gRodB)"/><rect x="598.7" y="756.7" width="4.7" height="91.4" rx="2.3" fill="url(#gRodB)"/><rect x="913.5" y="789.7" width="5.1" height="70.4" rx="2.5" fill="url(#gRodB)"/><rect x="935.9" y="808.1" width="4.5" height="70.6" rx="2.2" fill="url(#gRodB)"/><rect x="610.7" y="755.9" width="5.5" height="87.3" rx="2.8" fill="url(#gRodB)"/><rect x="933.5" y="804.2" width="5.3" height="89.0" rx="2.7" fill="url(#gRodB)"/><rect x="933.7" y="807.0" width="5.4" height="65.4" rx="2.7" fill="url(#gRodB)"/><rect x="705.8" y="748.5" width="5.8" height="118.3" rx="2.9" fill="url(#gRodB)"/><rect x="843.5" y="761.7" width="6.0" height="120.8" rx="3.0" fill="url(#gRodB)"/><rect x="503.8" y="793.9" width="4.8" height="75.6" rx="2.4" fill="url(#gRodB)"/><rect x="741.7" y="748.3" width="5.1" height="124.5" rx="2.5" fill="url(#gRodB)"/><rect x="938.8" y="817.8" width="6.2" height="56.4" rx="3.1" fill="url(#gRodB)"/><rect x="815.8" y="754.5" width="5.7" height="89.8" rx="2.8" fill="url(#gRodB)"/><rect x="582.6" y="763.4" width="5.3" height="108.4" rx="2.6" fill="url(#gRodB)"/><rect x="780.8" y="752.9" width="5.3" height="98.6" rx="2.6" fill="url(#gRodB)"/><rect x="938.8" y="812.5" width="4.8" height="49.9" rx="2.4" fill="url(#gRodB)"/><rect x="503.6" y="791.6" width="3.7" height="77.6" rx="1.8" fill="url(#gRodB)"/><rect x="521.5" y="782.5" width="4.2" height="88.9" rx="2.1" fill="url(#gRodB)"/><rect x="920.6" y="792.3" width="4.2" height="77.3" rx="2.1" fill="url(#gRodB)"/><rect x="566.4" y="760.7" width="6.4" height="119.6" rx="3.2" fill="url(#gRodB)"/><rect x="564.6" y="766.2" width="4.8" height="112.7" rx="2.4" fill="url(#gRodB)"/><rect x="591.9" y="760.6" width="5.7" height="91.0" rx="2.9" fill="url(#gRodB)"/><rect x="639.5" y="751.4" width="3.8" height="122.8" rx="1.9" fill="url(#gRodB)"/><rect x="939.1" y="819.1" width="5.1" height="43.3" rx="2.6" fill="url(#gRodB)"/><rect x="934.9" y="811.9" width="4.2" height="45.1" rx="2.1" fill="url(#gRodB)"/><rect x="905.0" y="782.1" width="3.7" height="82.4" rx="1.8" fill="url(#gRodB)"/><rect x="816.0" y="759.1" width="4.7" height="114.1" rx="2.3" fill="url(#gRodB)"/><rect x="724.4" y="746.0" width="3.6" height="114.3" rx="1.8" fill="url(#gRodB)"/><rect x="904.4" y="779.9" width="4.4" height="106.4" rx="2.2" fill="url(#gRodB)"/><rect x="754.2" y="748.5" width="6.4" height="125.7" rx="3.2" fill="url(#gRodB)"/><rect x="511.3" y="786.2" width="4.4" height="74.5" rx="2.2" fill="url(#gRodB)"/><rect x="788.3" y="755.1" width="4.1" height="119.3" rx="2.0" fill="url(#gRodB)"/><rect x="855.0" y="767.4" width="4.9" height="91.9" rx="2.5" fill="url(#gRodB)"/><rect x="497.3" y="792.5" width="6.5" height="95.7" rx="3.2" fill="url(#gRodB)"/><rect x="553.4" y="766.0" width="4.1" height="105.3" rx="2.0" fill="url(#gRodB)"/><rect x="928.5" y="803.5" width="3.8" height="54.2" rx="1.9" fill="url(#gRodB)"/><rect x="781.6" y="752.8" width="6.2" height="99.0" rx="3.1" fill="url(#gRodB)"/><rect x="870.0" y="772.1" width="3.9" height="102.6" rx="2.0" fill="url(#gRodB)"/><rect x="511.0" y="788.0" width="4.8" height="100.5" rx="2.4" fill="url(#gRodB)"/><rect x="926.8" y="795.8" width="4.4" height="68.3" rx="2.2" fill="url(#gRodB)"/><rect x="480.8" y="820.2" width="4.0" height="45.0" rx="2.0" fill="url(#gRodB)"/><rect x="746.7" y="745.9" width="5.9" height="117.8" rx="2.9" fill="url(#gRodB)"/><rect x="711.0" y="746.0" width="6.2" height="117.2" rx="3.1" fill="url(#gRodB)"/><rect x="639.5" y="751.6" width="4.4" height="97.0" rx="2.2" fill="url(#gRodB)"/><rect x="908.9" y="789.5" width="4.3" height="88.6" rx="2.2" fill="url(#gRodB)"/><rect x="676.1" y="748.9" width="6.4" height="92.9" rx="3.2" fill="url(#gRodB)"/><rect x="830.6" y="758.3" width="5.1" height="105.2" rx="2.5" fill="url(#gRodB)"/><rect x="490.2" y="799.2" width="4.4" height="79.8" rx="2.2" fill="url(#gRodB)"/></g>
<g id="goldSlivers"><rect x="592.0" y="812.7" width="5.5" height="32.4" fill="#a27a2e"/><rect x="615.0" y="817.9" width="6.8" height="32.4" fill="#a27a2e"/><rect x="640.9" y="826.2" width="3.1" height="28.5" fill="#a27a2e"/><rect x="663.3" y="822.9" width="5.6" height="34.6" fill="#a27a2e"/><rect x="678.3" y="833.3" width="4.9" height="25.5" fill="#a27a2e"/><rect x="697.7" y="837.6" width="5.3" height="22.2" fill="#a27a2e"/><rect x="713.6" y="825.2" width="4.1" height="34.8" fill="#a27a2e"/><rect x="734.9" y="826.3" width="3.6" height="33.2" fill="#a27a2e"/><rect x="748.2" y="834.9" width="5.5" height="23.8" fill="#a27a2e"/><rect x="761.7" y="832.6" width="6.5" height="24.9" fill="#a27a2e"/><rect x="778.7" y="821.3" width="6.9" height="34.2" fill="#a27a2e"/><rect x="797.1" y="823.1" width="6.8" height="29.5" fill="#a27a2e"/><rect x="820.1" y="813.0" width="3.8" height="35.2" fill="#a27a2e"/></g>
<g id="rodsDense2"><rect x="856.3" y="762.9" width="3.8" height="113.5" rx="1.9" fill="url(#gRodB)"/><rect x="548.1" y="768.4" width="4.2" height="108.2" rx="2.1" fill="url(#gRodB)"/><rect x="618.0" y="751.9" width="4.1" height="110.1" rx="2.0" fill="url(#gRodB)"/><rect x="491.8" y="804.6" width="3.6" height="88.9" rx="1.8" fill="url(#gRodB)"/><rect x="478.9" y="826.7" width="4.7" height="59.9" rx="2.3" fill="url(#gRodB)"/><rect x="801.1" y="756.8" width="4.0" height="103.2" rx="2.0" fill="url(#gRodB)"/><rect x="527.4" y="778.5" width="4.6" height="96.5" rx="2.3" fill="url(#gRodB)"/><rect x="509.7" y="788.4" width="5.1" height="94.4" rx="2.5" fill="url(#gRodB)"/><rect x="936.6" y="812.0" width="5.6" height="77.4" rx="2.8" fill="url(#gRodB)"/><rect x="518.2" y="782.8" width="4.0" height="105.2" rx="2.0" fill="url(#gRodB)"/><rect x="555.0" y="769.9" width="5.3" height="83.4" rx="2.7" fill="url(#gRodB)"/><rect x="826.5" y="755.9" width="5.8" height="104.0" rx="2.9" fill="url(#gRodB)"/><rect x="938.6" y="816.8" width="4.2" height="70.8" rx="2.1" fill="url(#gRodB)"/><rect x="898.6" y="780.8" width="5.2" height="79.0" rx="2.6" fill="url(#gRodB)"/><rect x="671.9" y="748.1" width="5.3" height="91.8" rx="2.6" fill="url(#gRodB)"/><rect x="515.4" y="785.3" width="6.1" height="88.6" rx="3.1" fill="url(#gRodB)"/><rect x="486.6" y="805.1" width="3.6" height="57.5" rx="1.8" fill="url(#gRodB)"/><rect x="571.6" y="762.9" width="4.8" height="98.8" rx="2.4" fill="url(#gRodB)"/><rect x="492.8" y="798.5" width="3.7" height="87.6" rx="1.9" fill="url(#gRodB)"/><rect x="702.6" y="750.3" width="5.1" height="109.3" rx="2.6" fill="url(#gRodB)"/><rect x="502.6" y="794.5" width="3.9" height="68.7" rx="2.0" fill="url(#gRodB)"/><rect x="495.2" y="796.3" width="4.4" height="60.6" rx="2.2" fill="url(#gRodB)"/><rect x="873.9" y="771.5" width="4.3" height="96.5" rx="2.1" fill="url(#gRodB)"/><rect x="621.7" y="753.7" width="6.0" height="90.5" rx="3.0" fill="url(#gRodB)"/><rect x="484.3" y="808.2" width="4.0" height="58.7" rx="2.0" fill="url(#gRodB)"/><rect x="917.9" y="794.0" width="5.9" height="91.9" rx="2.9" fill="url(#gRodB)"/><rect x="820.5" y="753.2" width="4.6" height="105.0" rx="2.3" fill="url(#gRodB)"/><rect x="775.3" y="747.9" width="3.6" height="128.5" rx="1.8" fill="url(#gRodB)"/><rect x="560.3" y="765.8" width="6.5" height="109.5" rx="3.2" fill="url(#gRodB)"/><rect x="479.7" y="816.6" width="5.7" height="58.5" rx="2.9" fill="url(#gRodB)"/><rect x="535.3" y="770.7" width="6.2" height="87.8" rx="3.1" fill="url(#gRodB)"/><rect x="718.7" y="744.2" width="4.4" height="108.8" rx="2.2" fill="url(#gRodB)"/><rect x="883.6" y="773.3" width="3.6" height="78.8" rx="1.8" fill="url(#gRodB)"/><rect x="885.7" y="779.2" width="5.7" height="99.4" rx="2.9" fill="url(#gRodB)"/><rect x="526.2" y="776.3" width="5.2" height="83.9" rx="2.6" fill="url(#gRodB)"/><rect x="922.5" y="794.1" width="6.3" height="78.5" rx="3.1" fill="url(#gRodB)"/><rect x="930.8" y="803.2" width="6.4" height="66.0" rx="3.2" fill="url(#gRodB)"/><rect x="538.1" y="774.5" width="4.7" height="76.1" rx="2.4" fill="url(#gRodB)"/><rect x="884.5" y="775.7" width="4.5" height="75.9" rx="2.3" fill="url(#gRodB)"/><rect x="531.6" y="777.7" width="5.3" height="105.1" rx="2.6" fill="url(#gRodB)"/><rect x="911.1" y="790.6" width="4.7" height="80.1" rx="2.3" fill="url(#gRodB)"/><rect x="848.5" y="765.8" width="5.8" height="93.9" rx="2.9" fill="url(#gRodB)"/><rect x="730.1" y="745.0" width="4.1" height="106.3" rx="2.0" fill="url(#gRodB)"/><rect x="540.7" y="773.1" width="4.1" height="81.9" rx="2.1" fill="url(#gRodB)"/><rect x="483.6" y="809.4" width="4.4" height="65.6" rx="2.2" fill="url(#gRodB)"/><rect x="643.6" y="749.9" width="5.5" height="127.5" rx="2.8" fill="url(#gRodB)"/><rect x="738.0" y="750.5" width="4.6" height="95.6" rx="2.3" fill="url(#gRodB)"/><rect x="519.3" y="778.5" width="4.6" height="99.4" rx="2.3" fill="url(#gRodB)"/><rect x="919.4" y="791.1" width="4.0" height="64.0" rx="2.0" fill="url(#gRodB)"/><rect x="768.0" y="747.7" width="6.3" height="106.5" rx="3.1" fill="url(#gRodB)"/><rect x="908.8" y="787.9" width="4.6" height="75.1" rx="2.3" fill="url(#gRodB)"/><rect x="749.3" y="745.4" width="4.6" height="128.8" rx="2.3" fill="url(#gRodB)"/><rect x="544.5" y="773.1" width="6.2" height="102.6" rx="3.1" fill="url(#gRodB)"/><rect x="480.2" y="815.8" width="4.7" height="54.3" rx="2.3" fill="url(#gRodB)"/><rect x="939.6" y="814.0" width="4.5" height="77.2" rx="2.2" fill="url(#gRodB)"/><rect x="509.0" y="790.1" width="3.7" height="82.8" rx="1.8" fill="url(#gRodB)"/><rect x="602.8" y="755.4" width="3.6" height="96.0" rx="1.8" fill="url(#gRodB)"/><rect x="799.3" y="750.3" width="3.6" height="113.2" rx="1.8" fill="url(#gRodB)"/><rect x="579.2" y="759.5" width="5.1" height="101.0" rx="2.6" fill="url(#gRodB)"/><rect x="860.8" y="763.4" width="4.3" height="110.0" rx="2.1" fill="url(#gRodB)"/></g>
<g id="rodsPale"><rect x="910.7" y="860.5" width="5.5" height="100.4" rx="2.7" fill="url(#gRodC)"/><rect x="858.9" y="867.4" width="5.5" height="85.5" rx="2.8" fill="url(#gRodC)"/><rect x="647.7" y="881.0" width="5.7" height="77.7" rx="2.9" fill="url(#gRodC)"/><rect x="491.2" y="861.3" width="5.7" height="58.8" rx="2.9" fill="url(#gRodC)"/><rect x="495.8" y="877.5" width="6.4" height="56.4" rx="3.2" fill="url(#gRodC)"/><rect x="486.1" y="879.2" width="5.9" height="39.5" rx="3.0" fill="url(#gRodC)"/><rect x="479.3" y="890.6" width="6.4" height="28.9" rx="3.2" fill="url(#gRodC)"/><rect x="492.9" y="879.2" width="5.9" height="42.4" rx="2.9" fill="url(#gRodC)"/><rect x="619.6" y="851.7" width="5.7" height="104.4" rx="2.9" fill="url(#gRodC)"/><rect x="874.0" y="855.0" width="6.2" height="74.7" rx="3.1" fill="url(#gRodC)"/><rect x="480.3" y="889.4" width="5.5" height="26.1" rx="2.8" fill="url(#gRodC)"/><rect x="539.1" y="889.3" width="6.6" height="56.5" rx="3.3" fill="url(#gRodC)"/><rect x="495.2" y="899.2" width="6.4" height="42.3" rx="3.2" fill="url(#gRodC)"/><rect x="840.8" y="884.3" width="5.8" height="79.9" rx="2.9" fill="url(#gRodC)"/><rect x="770.3" y="852.0" width="5.8" height="72.6" rx="2.9" fill="url(#gRodC)"/><rect x="924.5" y="874.5" width="6.4" height="61.7" rx="3.2" fill="url(#gRodC)"/><rect x="775.4" y="875.0" width="6.3" height="105.3" rx="3.2" fill="url(#gRodC)"/><rect x="593.1" y="868.7" width="6.2" height="78.9" rx="3.1" fill="url(#gRodC)"/><rect x="571.3" y="857.8" width="5.5" height="85.8" rx="2.7" fill="url(#gRodC)"/><rect x="603.0" y="880.2" width="6.3" height="82.6" rx="3.2" fill="url(#gRodC)"/><rect x="728.4" y="872.7" width="5.5" height="57.5" rx="2.7" fill="url(#gRodC)"/><rect x="912.5" y="894.9" width="6.1" height="48.2" rx="3.1" fill="url(#gRodC)"/><rect x="884.6" y="895.5" width="6.1" height="34.1" rx="3.0" fill="url(#gRodC)"/><rect x="666.9" y="862.3" width="6.5" height="95.4" rx="3.3" fill="url(#gRodC)"/><rect x="704.6" y="842.7" width="6.2" height="93.2" rx="3.1" fill="url(#gRodC)"/><rect x="647.7" y="851.4" width="5.4" height="54.5" rx="2.7" fill="url(#gRodC)"/><rect x="758.6" y="910.8" width="6.5" height="54.1" rx="3.3" fill="url(#gRodC)"/><rect x="523.5" y="865.2" width="6.3" height="62.0" rx="3.2" fill="url(#gRodC)"/><rect x="503.7" y="905.4" width="6.1" height="36.8" rx="3.0" fill="url(#gRodC)"/><rect x="875.5" y="864.7" width="5.4" height="63.7" rx="2.7" fill="url(#gRodC)"/><rect x="865.8" y="877.6" width="6.3" height="65.8" rx="3.1" fill="url(#gRodC)"/><rect x="939.8" y="904.8" width="5.9" height="15.8" rx="3.0" fill="url(#gRodC)"/><rect x="938.9" y="890.3" width="6.2" height="31.7" rx="3.1" fill="url(#gRodC)"/><rect x="854.9" y="910.7" width="6.6" height="51.1" rx="3.3" fill="url(#gRodC)"/><rect x="593.5" y="857.8" width="6.5" height="111.1" rx="3.3" fill="url(#gRodC)"/><rect x="838.2" y="886.6" width="5.5" height="32.8" rx="2.7" fill="url(#gRodC)"/><rect x="677.1" y="867.3" width="6.3" height="105.0" rx="3.2" fill="url(#gRodC)"/><rect x="522.0" y="898.7" width="5.9" height="17.3" rx="3.0" fill="url(#gRodC)"/><rect x="499.5" y="865.2" width="6.3" height="63.7" rx="3.2" fill="url(#gRodC)"/><rect x="658.5" y="880.3" width="5.9" height="35.1" rx="2.9" fill="url(#gRodC)"/><rect x="748.4" y="845.5" width="5.9" height="110.5" rx="3.0" fill="url(#gRodC)"/><rect x="935.2" y="932.9" width="5.9" height="15.0" rx="3.0" fill="url(#gRodC)"/><rect x="888.5" y="866.3" width="5.5" height="92.5" rx="2.8" fill="url(#gRodC)"/><rect x="490.4" y="870.1" width="5.8" height="49.0" rx="2.9" fill="url(#gRodC)"/><rect x="490.0" y="878.0" width="6.3" height="57.2" rx="3.1" fill="url(#gRodC)"/><rect x="826.8" y="878.1" width="5.5" height="42.8" rx="2.7" fill="url(#gRodC)"/><rect x="645.2" y="880.2" width="5.5" height="62.3" rx="2.8" fill="url(#gRodC)"/><rect x="928.6" y="866.5" width="6.4" height="87.8" rx="3.2" fill="url(#gRodC)"/><rect x="733.4" y="870.6" width="6.2" height="85.1" rx="3.1" fill="url(#gRodC)"/><rect x="921.5" y="874.8" width="6.1" height="43.8" rx="3.0" fill="url(#gRodC)"/><rect x="804.6" y="881.5" width="5.5" height="47.2" rx="2.8" fill="url(#gRodC)"/><rect x="932.6" y="874.5" width="5.5" height="51.0" rx="2.8" fill="url(#gRodC)"/><rect x="485.6" y="897.7" width="5.8" height="20.3" rx="2.9" fill="url(#gRodC)"/><rect x="938.6" y="924.4" width="6.5" height="15.0" rx="3.3" fill="url(#gRodC)"/><rect x="491.8" y="885.0" width="6.1" height="36.0" rx="3.0" fill="url(#gRodC)"/><rect x="576.5" y="868.1" width="6.5" height="92.4" rx="3.3" fill="url(#gRodC)"/><rect x="633.6" y="859.4" width="5.7" height="43.9" rx="2.8" fill="url(#gRodC)"/><rect x="529.7" y="906.2" width="5.9" height="50.4" rx="2.9" fill="url(#gRodC)"/><rect x="938.8" y="891.4" width="6.0" height="37.0" rx="3.0" fill="url(#gRodC)"/><rect x="786.7" y="874.0" width="6.4" height="112.9" rx="3.2" fill="url(#gRodC)"/><rect x="913.2" y="869.6" width="5.5" height="87.9" rx="2.8" fill="url(#gRodC)"/><rect x="508.1" y="870.9" width="6.4" height="59.9" rx="3.2" fill="url(#gRodC)"/><rect x="721.3" y="900.1" width="6.0" height="66.1" rx="3.0" fill="url(#gRodC)"/><rect x="813.3" y="851.0" width="5.4" height="121.1" rx="2.7" fill="url(#gRodC)"/><rect x="507.3" y="903.0" width="5.9" height="41.2" rx="3.0" fill="url(#gRodC)"/><rect x="586.8" y="872.1" width="5.9" height="36.0" rx="2.9" fill="url(#gRodC)"/><rect x="886.3" y="884.3" width="6.2" height="39.0" rx="3.1" fill="url(#gRodC)"/><rect x="601.0" y="853.2" width="6.5" height="131.3" rx="3.3" fill="url(#gRodC)"/><rect x="892.5" y="864.0" width="6.0" height="101.7" rx="3.0" fill="url(#gRodC)"/><rect x="905.3" y="871.4" width="6.2" height="57.7" rx="3.1" fill="url(#gRodC)"/><rect x="800.1" y="872.8" width="5.9" height="38.9" rx="2.9" fill="url(#gRodC)"/><rect x="487.5" y="880.4" width="6.3" height="39.2" rx="3.2" fill="url(#gRodC)"/><rect x="920.3" y="894.4" width="5.5" height="65.7" rx="2.8" fill="url(#gRodC)"/><rect x="791.7" y="862.5" width="6.3" height="61.9" rx="3.1" fill="url(#gRodC)"/><rect x="664.4" y="882.4" width="5.6" height="46.7" rx="2.8" fill="url(#gRodC)"/><rect x="499.4" y="877.3" width="6.1" height="62.7" rx="3.1" fill="url(#gRodC)"/><rect x="485.0" y="885.9" width="5.6" height="32.2" rx="2.8" fill="url(#gRodC)"/><rect x="931.7" y="876.4" width="5.8" height="49.7" rx="2.9" fill="url(#gRodC)"/><rect x="804.0" y="897.3" width="5.6" height="81.9" rx="2.8" fill="url(#gRodC)"/><rect x="487.5" y="887.7" width="5.8" height="43.9" rx="2.9" fill="url(#gRodC)"/><rect x="925.0" y="879.6" width="6.1" height="76.5" rx="3.1" fill="url(#gRodC)"/><rect x="704.3" y="873.5" width="6.0" height="119.9" rx="3.0" fill="url(#gRodC)"/><rect x="899.7" y="875.1" width="5.9" height="80.7" rx="2.9" fill="url(#gRodC)"/><rect x="529.7" y="882.7" width="6.1" height="57.3" rx="3.0" fill="url(#gRodC)"/><rect x="816.9" y="899.5" width="6.4" height="68.1" rx="3.2" fill="url(#gRodC)"/><rect x="481.1" y="866.2" width="5.8" height="52.8" rx="2.9" fill="url(#gRodC)"/><rect x="720.6" y="854.3" width="6.1" height="84.6" rx="3.1" fill="url(#gRodC)"/><rect x="935.5" y="878.5" width="6.0" height="51.5" rx="3.0" fill="url(#gRodC)"/><rect x="739.6" y="848.0" width="6.6" height="57.3" rx="3.3" fill="url(#gRodC)"/><rect x="555.4" y="892.4" width="5.8" height="68.3" rx="2.9" fill="url(#gRodC)"/><rect x="796.1" y="916.0" width="6.2" height="59.1" rx="3.1" fill="url(#gRodC)"/><rect x="515.8" y="881.4" width="5.7" height="62.0" rx="2.8" fill="url(#gRodC)"/><rect x="834.0" y="873.3" width="5.7" height="43.1" rx="2.9" fill="url(#gRodC)"/><rect x="621.4" y="880.5" width="6.3" height="93.7" rx="3.1" fill="url(#gRodC)"/><rect x="481.9" y="921.5" width="6.1" height="15.0" rx="3.0" fill="url(#gRodC)"/><rect x="547.9" y="854.7" width="5.7" height="95.1" rx="2.9" fill="url(#gRodC)"/><rect x="524.7" y="918.9" width="5.5" height="35.4" rx="2.7" fill="url(#gRodC)"/><rect x="502.7" y="901.7" width="6.4" height="21.5" rx="3.2" fill="url(#gRodC)"/><rect x="933.5" y="888.6" width="5.9" height="29.5" rx="2.9" fill="url(#gRodC)"/><rect x="481.4" y="900.5" width="6.3" height="16.1" rx="3.1" fill="url(#gRodC)"/><rect x="690.5" y="874.2" width="5.9" height="100.6" rx="3.0" fill="url(#gRodC)"/><rect x="750.7" y="847.7" width="6.1" height="58.0" rx="3.1" fill="url(#gRodC)"/><rect x="919.3" y="879.7" width="6.1" height="75.8" rx="3.0" fill="url(#gRodC)"/><rect x="931.8" y="875.3" width="6.6" height="73.9" rx="3.3" fill="url(#gRodC)"/><rect x="543.8" y="912.0" width="6.5" height="40.6" rx="3.2" fill="url(#gRodC)"/><rect x="546.4" y="897.5" width="5.9" height="65.3" rx="3.0" fill="url(#gRodC)"/><rect x="904.5" y="867.3" width="6.0" height="79.8" rx="3.0" fill="url(#gRodC)"/><rect x="567.0" y="873.2" width="5.7" height="53.2" rx="2.8" fill="url(#gRodC)"/><rect x="628.5" y="848.9" width="6.3" height="75.4" rx="3.2" fill="url(#gRodC)"/><rect x="601.6" y="881.6" width="5.5" height="38.0" rx="2.8" fill="url(#gRodC)"/><rect x="921.5" y="890.6" width="5.8" height="37.1" rx="2.9" fill="url(#gRodC)"/><rect x="871.7" y="907.5" width="6.4" height="55.3" rx="3.2" fill="url(#gRodC)"/><rect x="511.0" y="917.0" width="5.4" height="29.6" rx="2.7" fill="url(#gRodC)"/><rect x="933.3" y="884.4" width="6.2" height="53.1" rx="3.1" fill="url(#gRodC)"/><rect x="911.8" y="881.4" width="6.1" height="53.8" rx="3.0" fill="url(#gRodC)"/><rect x="864.7" y="880.5" width="6.1" height="86.8" rx="3.0" fill="url(#gRodC)"/><rect x="894.8" y="860.7" width="5.8" height="68.0" rx="2.9" fill="url(#gRodC)"/><rect x="847.5" y="886.7" width="5.6" height="34.0" rx="2.8" fill="url(#gRodC)"/><rect x="852.8" y="869.7" width="6.5" height="70.7" rx="3.3" fill="url(#gRodC)"/><rect x="877.5" y="881.8" width="6.3" height="76.0" rx="3.2" fill="url(#gRodC)"/><rect x="827.1" y="857.6" width="6.4" height="98.2" rx="3.2" fill="url(#gRodC)"/><rect x="939.2" y="892.8" width="5.5" height="39.2" rx="2.8" fill="url(#gRodC)"/><rect x="714.2" y="855.9" width="6.3" height="67.8" rx="3.2" fill="url(#gRodC)"/><rect x="935.0" y="887.7" width="5.7" height="39.2" rx="2.8" fill="url(#gRodC)"/><rect x="539.3" y="875.4" width="5.6" height="65.0" rx="2.8" fill="url(#gRodC)"/><rect x="768.3" y="854.7" width="6.0" height="115.0" rx="3.0" fill="url(#gRodC)"/><rect x="693.6" y="902.1" width="6.1" height="92.8" rx="3.1" fill="url(#gRodC)"/><rect x="481.7" y="870.8" width="5.5" height="45.7" rx="2.8" fill="url(#gRodC)"/><rect x="566.4" y="889.0" width="6.3" height="67.2" rx="3.2" fill="url(#gRodC)"/><rect x="658.4" y="872.4" width="6.1" height="73.0" rx="3.0" fill="url(#gRodC)"/><rect x="882.6" y="893.5" width="6.5" height="67.2" rx="3.2" fill="url(#gRodC)"/><rect x="937.5" y="905.4" width="6.5" height="18.4" rx="3.3" fill="url(#gRodC)"/><rect x="640.6" y="849.5" width="6.2" height="108.1" rx="3.1" fill="url(#gRodC)"/><rect x="760.1" y="869.8" width="5.8" height="84.8" rx="2.9" fill="url(#gRodC)"/><rect x="938.9" y="902.3" width="6.5" height="34.2" rx="3.3" fill="url(#gRodC)"/><rect x="916.4" y="897.5" width="6.3" height="20.9" rx="3.1" fill="url(#gRodC)"/><rect x="616.4" y="878.9" width="5.7" height="106.7" rx="2.9" fill="url(#gRodC)"/><rect x="810.9" y="866.0" width="6.4" height="60.1" rx="3.2" fill="url(#gRodC)"/><rect x="818.2" y="887.9" width="6.3" height="41.8" rx="3.1" fill="url(#gRodC)"/><rect x="580.1" y="876.6" width="5.7" height="40.5" rx="2.9" fill="url(#gRodC)"/><rect x="496.9" y="885.1" width="5.7" height="37.7" rx="2.8" fill="url(#gRodC)"/><rect x="605.9" y="897.4" width="5.4" height="92.5" rx="2.7" fill="url(#gRodC)"/><rect x="487.7" y="872.9" width="6.0" height="50.9" rx="3.0" fill="url(#gRodC)"/><rect x="514.9" y="899.8" width="5.7" height="33.0" rx="2.9" fill="url(#gRodC)"/><rect x="929.7" y="901.9" width="5.8" height="34.7" rx="2.9" fill="url(#gRodC)"/><rect x="483.1" y="898.7" width="5.7" height="31.2" rx="2.9" fill="url(#gRodC)"/><rect x="714.2" y="887.6" width="5.6" height="91.0" rx="2.8" fill="url(#gRodC)"/><rect x="680.8" y="870.0" width="6.0" height="44.1" rx="3.0" fill="url(#gRodC)"/><rect x="615.6" y="885.2" width="5.7" height="55.7" rx="2.9" fill="url(#gRodC)"/><rect x="632.3" y="906.9" width="5.7" height="67.1" rx="2.9" fill="url(#gRodC)"/><rect x="699.5" y="871.4" width="5.7" height="45.9" rx="2.9" fill="url(#gRodC)"/><rect x="907.8" y="867.2" width="6.0" height="92.3" rx="3.0" fill="url(#gRodC)"/><rect x="739.9" y="860.5" width="6.4" height="78.6" rx="3.2" fill="url(#gRodC)"/><rect x="482.1" y="892.5" width="5.6" height="33.3" rx="2.8" fill="url(#gRodC)"/><rect x="563.4" y="872.0" width="6.4" height="89.4" rx="3.2" fill="url(#gRodC)"/><rect x="584.0" y="862.3" width="6.4" height="96.1" rx="3.2" fill="url(#gRodC)"/><rect x="555.1" y="882.2" width="6.1" height="63.7" rx="3.1" fill="url(#gRodC)"/><rect x="774.7" y="874.0" width="6.1" height="98.3" rx="3.0" fill="url(#gRodC)"/><rect x="685.0" y="897.4" width="6.3" height="91.1" rx="3.1" fill="url(#gRodC)"/><rect x="516.3" y="894.2" width="6.0" height="29.8" rx="3.0" fill="url(#gRodC)"/><rect x="744.2" y="863.0" width="6.2" height="63.0" rx="3.1" fill="url(#gRodC)"/><rect x="834.7" y="851.8" width="6.5" height="113.7" rx="3.3" fill="url(#gRodC)"/><rect x="893.7" y="865.5" width="6.3" height="73.8" rx="3.2" fill="url(#gRodC)"/><rect x="785.7" y="860.0" width="5.7" height="99.7" rx="2.9" fill="url(#gRodC)"/><rect x="850.4" y="873.1" width="5.5" height="94.2" rx="2.7" fill="url(#gRodC)"/><rect x="560.8" y="885.8" width="6.5" height="32.5" rx="3.3" fill="url(#gRodC)"/><rect x="673.1" y="886.0" width="5.8" height="17.8" rx="2.9" fill="url(#gRodC)"/><rect x="536.7" y="903.2" width="6.3" height="51.1" rx="3.2" fill="url(#gRodC)"/></g>
<path d="M483,821 A231,80 0 0 1 943,821 L943,829 A231,80 0 0 0 483,829 Z" fill="#fffef2" opacity="0.8"/>
<path d="M480,766 A233.5,61 0 0 1 945,766 L943,821 A231,80 0 0 0 483,821 Z" fill="url(#gBand)"/>
</g><!--endlamp-->

<!-- PANEL 1 -->
<g id="panel1">
<rect x="39.5" y="1029" width="1421" height="257.4" rx="55" fill="#fff" stroke="url(#gFrame)" stroke-width="12.3"/>
<g font-size="67">
<text x="87" y="1119" textLength="460" lengthAdjust="spacingAndGlyphs">РЕГУЛИРОВКА</text>
<text x="566" y="1119" textLength="478" lengthAdjust="spacingAndGlyphs">ТЕМПЕРАТУРЫ</text>
<text x="1067" y="1119" textLength="347" lengthAdjust="spacingAndGlyphs">СВЕЧЕНИЯ</text>
</g>
<rect x="90.5" y="1153.5" width="1324" height="89" rx="44.5" fill="url(#gTemp)" stroke="#000" stroke-width="1"/>
<use href="#arrowR" transform="translate(3,3)" fill="#b4b4b4"/>
<use href="#arrowR" transform="translate(2,2)" fill="#b4b4b4"/>
<use href="#arrowR" transform="translate(1,1)" fill="#b4b4b4"/>
<use href="#arrowR" transform="translate(0,0)" fill="#d9d9d9"/>
<use href="#arrowR" transform="translate(3,3) translate(1537.5,0) scale(-1,1)" fill="#b4b4b4"/>
<use href="#arrowR" transform="translate(2,2) translate(1537.5,0) scale(-1,1)" fill="#b4b4b4"/>
<use href="#arrowR" transform="translate(1,1) translate(1537.5,0) scale(-1,1)" fill="#b4b4b4"/>
<use href="#arrowR" transform="translate(0,0) translate(1537.5,0) scale(-1,1)" fill="#d9d9d9"/>
<circle cx="768" cy="1198" r="55" fill="#d9d9d9" filter="url(#fKnob)"/>
</g>

<!-- PANEL 2 -->
<g id="panel2">
<rect x="39.5" y="1338.8" width="1421" height="257.4" rx="55" fill="#fff" stroke="url(#gFrame)" stroke-width="12.3"/>
<g font-size="67">
<text x="236.5" y="1429" textLength="305.5" lengthAdjust="spacingAndGlyphs">ПЛАВНАЯ</text>
<text x="561.5" y="1429" textLength="382.5" lengthAdjust="spacingAndGlyphs">НАСТРОЙКА</text>
<text x="962" y="1429" textLength="300" lengthAdjust="spacingAndGlyphs">ЯРКОСТИ</text>
</g>
<rect x="90.5" y="1463.5" width="1324" height="89" rx="44.5" fill="url(#gBright)" stroke="#000" stroke-width="1"/>
<use href="#arrowR" transform="translate(3,313)" fill="#8c8458"/>
<use href="#arrowR" transform="translate(2,312)" fill="#8c8458"/>
<use href="#arrowR" transform="translate(1,311)" fill="#8c8458"/>
<use href="#arrowR" transform="translate(0,310)" fill="#5f5f5f"/>
<use href="#arrowR" transform="translate(3,313) translate(1537.5,0) scale(-1,1)" fill="#8c8458"/>
<use href="#arrowR" transform="translate(2,312) translate(1537.5,0) scale(-1,1)" fill="#8c8458"/>
<use href="#arrowR" transform="translate(1,311) translate(1537.5,0) scale(-1,1)" fill="#8c8458"/>
<use href="#arrowR" transform="translate(0,310) translate(1537.5,0) scale(-1,1)" fill="#5f5f5f"/>
<circle cx="768" cy="1508" r="55" fill="#5f5f5f" filter="url(#fKnob)"/>
</g>

<!-- BOTTOM LABELS -->
<g id="labels">
<text x="129" y="1703" font-size="67" textLength="242" lengthAdjust="spacingAndGlyphs">РЕЖИМ</text>
<text x="99" y="1761" font-size="67" textLength="316" lengthAdjust="spacingAndGlyphs">НОЧНИКА</text>
<text x="637.5" y="1703" font-size="67" textLength="262" lengthAdjust="spacingAndGlyphs">ТАЙМЕР</text>
<text x="535.5" y="1761" font-size="67" textLength="461.5" lengthAdjust="spacingAndGlyphs">ОТКЛЮЧЕНИЯ</text>
<text x="1076" y="1703" font-size="67" textLength="329" lengthAdjust="spacingAndGlyphs">4 РЕЖИМА</text>
<text x="1065" y="1761" font-size="55" textLength="349" lengthAdjust="spacingAndGlyphs">ОТ ВЫКЛЮЧАТЕЛЯ</text>
</g>

<!-- ICONS -->
<g id="icons">
<g fill="url(#gIconMoon)" filter="url(#fIcon)"><path d="M239,1797.5 A82,82 0 1 0 337.5,1897.5 A70.4,70.4 0 1 1 239,1797.5z"/><polygon points="304.1,1797.6 314.4,1819.4 337.4,1822.9 320.7,1839.9 324.7,1863.8 304.1,1852.5 283.5,1863.8 287.5,1839.9 270.8,1822.9 293.8,1819.4"/></g>
<g fill="url(#gIconClock)" filter="url(#fIcon)"><path d="M714.5,1823 A75.7,75.7 0 1 1 692.4,1871.9" fill="none" stroke="url(#gIconClock)" stroke-width="18"/>
<polygon points="694,1802.5 709.5,1805.2 707.3,1815.3 721.5,1829.5 736.7,1828.1 738.5,1843.3 690.5,1849.2"/>
<polyline points="768,1828 768,1876.7 803,1914" fill="none" stroke="url(#gIconClock)" stroke-width="16"/></g>
<g filter="url(#fPie)"><path d="M1259,1872 L1177.6,1872 A85.5,85.5 0 0 1 1259,1790.6 Z" fill="#dbe6fb" stroke="#f0bd85" stroke-width="3" stroke-linejoin="round"/>
<path d="M1267,1872 L1348.4,1872 A85.5,85.5 0 0 0 1267,1790.6 Z" fill="#fdefd6" stroke="#f0bd85" stroke-width="3" stroke-linejoin="round"/>
<path d="M1259,1880 L1177.6,1880 A85.5,85.5 0 0 0 1259,1961.4 Z" fill="#faf6d6" stroke="#f0bd85" stroke-width="3" stroke-linejoin="round"/>
<path d="M1267,1880 L1348.4,1880 A85.5,85.5 0 0 1 1267,1961.4 Z" fill="#e6dbcb" stroke="#f0bd85" stroke-width="3" stroke-linejoin="round"/></g>
</g>
</svg>
</body>
</html>
